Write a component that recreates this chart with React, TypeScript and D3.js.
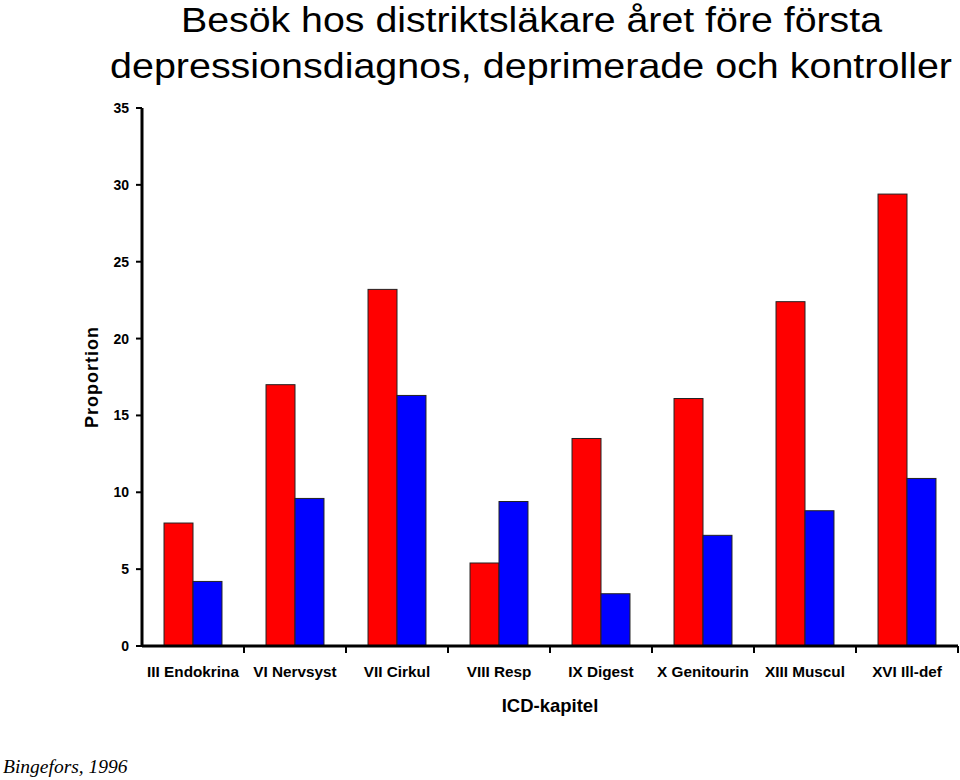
import React from "react";
import * as d3 from "d3";

const categories = [
  "III Endokrina",
  "VI Nervsyst",
  "VII Cirkul",
  "VIII Resp",
  "IX Digest",
  "X Genitourin",
  "XIII Muscul",
  "XVI Ill-def",
];
const depressed = [8.0, 17.0, 23.2, 5.4, 13.5, 16.1, 22.4, 29.4];
const controls = [4.2, 9.6, 16.3, 9.4, 3.4, 7.2, 8.8, 10.9];
const yTicks = [0, 5, 10, 15, 20, 25, 30, 35];
const seriesColors = ["#FF0000", "#0000FF"];

export default function App() {
  const W = 960;
  const H = 780;
  const x0 = 142;
  const x1 = 958;
  const yTop = 108;
  const yBot = 646;

  const x = d3.scaleBand<string>().domain(categories).range([x0, x1]).paddingInner(0).paddingOuter(0);
  const inner = d3.scaleBand<number>().domain([0, 1]).range([0, x.bandwidth()]).paddingInner(0).paddingOuter(0.76);
  const y = d3.scaleLinear().domain([0, 35]).range([yBot, yTop]);

  const series = [depressed, controls];
  const font = "Arial, 'Liberation Sans', Helvetica, sans-serif";

  return (
    <svg width={W} height={H} style={{ position: "absolute", left: 0, top: 0, background: "#fff" }}>
      <text x={181} y={32} textLength={701} lengthAdjust="spacingAndGlyphs" fontFamily={font} fontSize={35} fill="#000">
        Besök hos distriktsläkare året före första
      </text>
      <text x={110} y={78} textLength={842} lengthAdjust="spacingAndGlyphs" fontFamily={font} fontSize={35} fill="#000">
        depressionsdiagnos, deprimerade och kontroller
      </text>

      {/* bars */}
      {categories.map((c, i) =>
        series.map((s, k) => {
          const bx = (x(c) as number) + (inner(k) as number);
          return (
            <rect
              key={c + k}
              x={bx}
              y={y(s[i])}
              width={inner.bandwidth()}
              height={yBot - y(s[i])}
              fill={seriesColors[k]}
              stroke="#222"
              strokeWidth={1}
            />
          );
        })
      )}

      {/* y axis */}
      <line x1={x0} x2={x0} y1={yTop} y2={yBot + 1} stroke="#000" strokeWidth={3} />
      {yTicks.map((t) => (
        <g key={t}>
          <line x1={x0 - 6} x2={x0} y1={y(t)} y2={y(t)} stroke="#000" strokeWidth={2} />
          <text
            x={x0 - 13}
            y={y(t)}
            dy="0.36em"
            textAnchor="end"
            fontFamily={font}
            fontWeight="bold"
            fontSize={14}
            fill="#000"
          >
            {t}
          </text>
        </g>
      ))}

      {/* x axis */}
      <line x1={x0} x2={x1} y1={yBot} y2={yBot} stroke="#000" strokeWidth={3} />
      {categories.map((c) => {
        const bx = (x(c) as number) + x.bandwidth();
        return <line key={"t" + c} x1={bx} x2={bx} y1={yBot} y2={yBot + 7} stroke="#000" strokeWidth={2} />;
      })}
      {categories.map((c) => (
        <text
          key={"l" + c}
          x={(x(c) as number) + x.bandwidth() / 2}
          y={677}
          textAnchor="middle"
          fontFamily={font}
          fontWeight="bold"
          fontSize={15.3}
          fill="#000"
        >
          {c}
        </text>
      ))}

      <text x={550} y={712} textAnchor="middle" fontFamily={font} fontWeight="bold" fontSize={18.5} fill="#000">
        ICD-kapitel
      </text>
      <text
        transform={`translate(98,377) rotate(-90)`}
        textAnchor="middle"
        fontFamily={font}
        fontWeight="bold"
        fontSize={18}
        letterSpacing={1}
        fill="#000"
      >
        Proportion
      </text>

      <text x={3} y={773} fontFamily="'Times New Roman', 'Liberation Serif', serif" fontStyle="italic" fontSize={19.5} fill="#000">
        Bingefors, 1996
      </text>
    </svg>
  );
}
